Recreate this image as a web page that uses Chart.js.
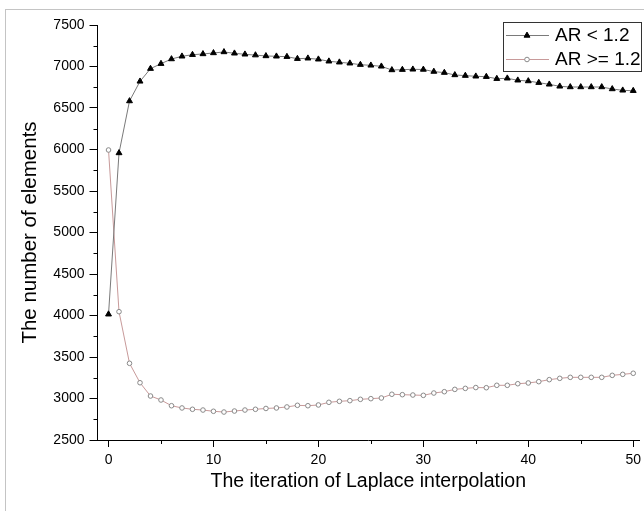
<!DOCTYPE html>
<html>
<head>
<meta charset="utf-8">
<script src="https://cdn.jsdelivr.net/npm/chart.js@4/dist/chart.umd.min.js"></script>
<style>
  html, body { margin: 0; padding: 0; background: #fff; }
  canvas { display: block; }
</style>
</head>
<body>
<canvas id="c" width="644" height="511"></canvas>
<script>
const iterations = [0,1,2,3,4,5,6,7,8,9,10,11,12,13,14,15,16,17,18,19,20,21,22,23,24,25,26,27,28,29,30,31,32,33,34,35,36,37,38,39,40,41,42,43,44,45,46,47,48,49,50];
const arLow = [4015,5958,6584,6821,6974,7034,7090,7123,7142,7151,7163,7175,7159,7147,7137,7127,7123,7118,7094,7099,7087,7063,7051,7039,7022,7014,7002,6958,6962,6966,6964,6939,6926,6898,6890,6882,6877,6853,6858,6834,6825,6805,6785,6761,6753,6753,6753,6753,6729,6713,6708];
const arHigh = [5994,4046,3424,3190,3030,2982,2913,2886,2870,2861,2846,2837,2849,2861,2870,2880,2886,2898,2918,2913,2922,2954,2966,2974,2990,2998,3006,3051,3046,3042,3038,3066,3082,3110,3122,3132,3130,3159,3159,3178,3187,3203,3227,3243,3255,3255,3255,3255,3279,3291,3304];
const seriesLabels = ['AR < 1.2', 'AR >= 1.2'];
const xMajorTicks = [0,10,20,30,40,50];
const xMinorTicks = [5,15,25,35,45];
const yMajorTicks = [2500,3000,3500,4000,4500,5000,5500,6000,6500,7000,7500];
const yMinorTicks = [2750,3250,3750,4250,4750,5250,5750,6250,6750,7250];
const xTitle = 'The iteration of Laplace interpolation';
const yTitle = 'The number of elements';

const FONT = '"Liberation Sans", Arial, sans-serif';

const decorPlugin = {
  id: 'decor',
  beforeDraw(chart) {
    const ctx = chart.ctx;
    ctx.save();
    ctx.fillStyle = '#fff';
    ctx.fillRect(0, 0, chart.width, chart.height);
    ctx.strokeStyle = '#c4c4c4';
    ctx.lineWidth = 1;
    ctx.strokeRect(5.5, 9.5, chart.width + 20, chart.height + 20);
    ctx.restore();
  },
  afterDraw(chart) {
    const ctx = chart.ctx;
    const xs = chart.scales.x, ys = chart.scales.y;
    const area = chart.chartArea;
    ctx.save();
    ctx.strokeStyle = '#000';
    ctx.lineWidth = 1;
    ctx.beginPath();
    yMinorTicks.forEach(v => {
      const p = Math.round(ys.getPixelForValue(v)) + 0.5;
      ctx.moveTo(area.left - 4, p);
      ctx.lineTo(area.left, p);
    });
    xMinorTicks.forEach(v => {
      const p = Math.round(xs.getPixelForValue(v)) + 0.5;
      ctx.moveTo(p, area.bottom);
      ctx.lineTo(p, area.bottom + 4);
    });
    ctx.stroke();

    // legend
    const bx = 503.5, by = 22.5, bw = 138, bh = 49;
    ctx.fillStyle = '#fff';
    ctx.fillRect(bx, by, bw, bh);
    ctx.strokeStyle = '#333';
    ctx.strokeRect(bx, by, bw, bh);
    const rows = [35, 59];
    chart.data.datasets.forEach((ds, i) => {
      const y = rows[i] + 0.5;
      ctx.strokeStyle = ds.borderColor;
      ctx.lineWidth = 1;
      ctx.beginPath();
      ctx.moveTo(506, y);
      ctx.lineTo(549, y);
      ctx.stroke();
      ctx.fillStyle = ds.pointBackgroundColor;
      ctx.strokeStyle = ds.pointBorderColor;
      ctx.lineWidth = ds.pointBorderWidth;
      if (Chart.helpers && Chart.helpers.drawPoint) {
        Chart.helpers.drawPoint(ctx, {pointStyle: ds.pointStyle, radius: ds.pointRadius, borderWidth: ds.pointBorderWidth, rotation: 0}, 527, y);
      }
      ctx.fillStyle = '#000';
      ctx.font = '19px ' + FONT;
      ctx.textBaseline = 'middle';
      ctx.textAlign = 'left';
      ctx.fillText(ds.label, 555, rows[i] + 1);
    });
    ctx.restore();
  }
};

new Chart(document.getElementById('c'), {
  type: 'line',
  data: {
    datasets: [
      {
        label: seriesLabels[0],
        data: iterations.map((x, i) => ({x: x, y: arLow[i]})),
        borderColor: '#7a7a7a',
        borderWidth: 1,
        pointStyle: 'triangle',
        pointRadius: 3.4,
        pointBorderWidth: 1,
        pointBackgroundColor: '#000',
        pointBorderColor: '#000',
        tension: 0,
        fill: false,
        clip: false
      },
      {
        label: seriesLabels[1],
        data: iterations.map((x, i) => ({x: x, y: arHigh[i]})),
        borderColor: '#c89a9a',
        borderWidth: 1,
        pointStyle: 'circle',
        pointRadius: 2.3,
        pointBorderWidth: 1,
        pointBackgroundColor: '#fff',
        pointBorderColor: '#8a8a8a',
        tension: 0,
        fill: false,
        clip: false
      }
    ]
  },
  options: {
    responsive: false,
    devicePixelRatio: 1,
    animation: false,
    layout: { padding: { top: 25, right: 0, bottom: 0, left: 0 } },
    plugins: { legend: { display: false }, tooltip: { enabled: false } },
    scales: {
      x: {
        type: 'linear',
        min: -1.05,
        max: 50.55,
        afterFit(s) { s.height = 71; s.paddingRight = 0; s.paddingLeft = 0; },
        afterBuildTicks(s) { s.ticks = xMajorTicks.map(v => ({value: v})); },
        grid: { drawOnChartArea: false, tickLength: 7, color: '#000', tickColor: '#000' },
        border: { display: true, color: '#000', width: 1 },
        ticks: {
          font: { family: FONT, size: 14 }, color: '#000', padding: 5,
          maxRotation: 0, autoSkip: false,
          callback: v => String(v)
        },
        title: {
          display: true, text: xTitle, color: '#000',
          font: { family: FONT, size: 19.5 }, padding: { top: 0, bottom: 18 }
        }
      },
      y: {
        type: 'linear',
        min: 2500,
        max: 7500,
        afterFit(s) { s.width = 97.5; s.paddingTop = 0; s.paddingBottom = 0; },
        afterBuildTicks(s) { s.ticks = yMajorTicks.map(v => ({value: v})); },
        grid: { drawOnChartArea: false, tickLength: 8, color: '#000', tickColor: '#000' },
        border: { display: true, color: '#000', width: 1 },
        ticks: {
          font: { family: FONT, size: 14 }, color: '#000', padding: 5,
          autoSkip: false,
          callback: v => String(v)
        },
        title: {
          display: true, text: yTitle, color: '#000',
          font: { family: FONT, size: 20.5 }, padding: { top: 18, bottom: 0 }
        }
      }
    }
  },
  plugins: [decorPlugin]
});
</script>
</body>
</html>
